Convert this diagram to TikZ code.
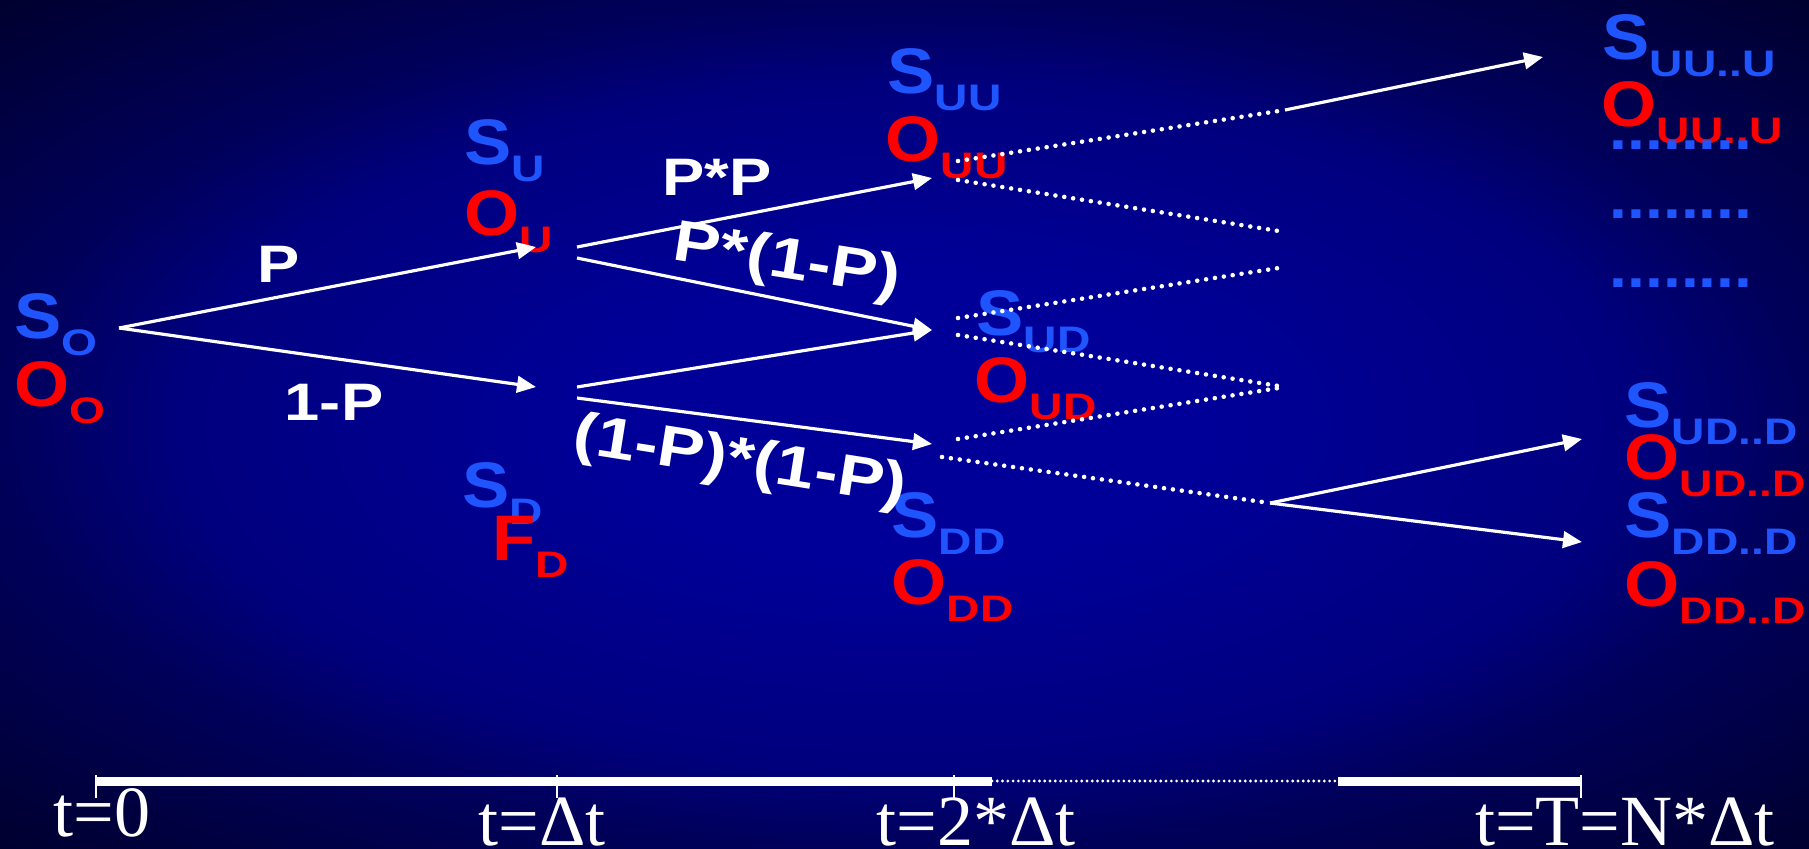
\documentclass[tikz,border=0pt]{standalone}
\usepackage{fontspec}
\setmainfont{Liberation Serif}
\newfontfamily\lblfont[FakeStretch=1.1]{Liberation Sans}
\newfontfamily\subfont[FakeStretch=1.25]{Liberation Sans}
\newfontfamily\edgefont[FakeStretch=1.2]{Liberation Sans}
\usepackage{xcolor}
\definecolor{cS}{HTML}{1F55FF}
\definecolor{cO}{HTML}{FF0000}
\definecolor{bgIn}{HTML}{000099}
\definecolor{bgMid}{HTML}{00007E}
\definecolor{bgEdge}{HTML}{00005A}
\definecolor{bgCorner}{HTML}{00002C}
\usepackage{tikz}
\usetikzlibrary{arrows.meta}
\pgfdeclareradialshading{bg-radial}{\pgfpoint{0bp}{0bp}}{%
  color(0bp)=(bgIn); color(8bp)=(bgIn); color(20bp)=(bgMid);
  color(25bp)=(bgEdge); color(36bp)=(bgCorner); color(50bp)=(bgCorner)}
\newcommand{\nodelbl}[2]{#1\raisebox{-4.85pt}{\subfont\fontsize{10.5}{11}\selectfont #2}}
\tikzset{
  lbl-s/.style={text=cS,inner sep=0pt,anchor=base west,
    font=\lblfont\bfseries\fontsize{18.3}{20}\selectfont},
  lbl-o/.style={lbl-s,text=cO},
  lbl-dots/.style={lbl-s,font=\lblfont\bfseries\fontsize{16.6}{18}\selectfont},
  lbl-edge/.style={text=white,inner sep=0pt,
    font=\edgefont\bfseries\fontsize{15}{16}\selectfont},
  lbl-edge-rot/.style={lbl-edge,rotate=-9,
    font=\edgefont\bfseries\fontsize{16.5}{18}\selectfont},
  lbl-time/.style={text=white,inner sep=0pt,anchor=base,
    font=\fontsize{20.5}{22}\selectfont},
  arrow/.style={-{Triangle[length=5.4pt,width=4.7pt]},line width=0.9pt,draw=white},
  branch-dot/.style={line width=1.3pt,draw=white,line cap=round,
    dash pattern=on 0pt off 2.55pt},
  axis/.style={line width=2.56pt,draw=white},
  axis-dot/.style={line width=0.9pt,draw=white,line cap=round,
    dash pattern=on 0pt off 1.5pt},
  axis-tick/.style={line width=0.6pt,draw=white},
}

\begin{document}
\begin{tikzpicture}[x=0.01cm,y=-0.01cm]
  \useasboundingbox (0,0) rectangle (1809,848);
  \shade[shading=bg-radial] (0,0) rectangle (1809,848);

  % 节点
  \node[lbl-s] (s0) at (14,338) {\nodelbl{S}{O}};
  \node[lbl-o] (o0) at (14,406) {\nodelbl{O}{O}};
  \node[lbl-s] (su) at (464,164) {\nodelbl{S}{U}};
  \node[lbl-o] (ou) at (464,235) {\nodelbl{O}{U}};
  \node[lbl-s] (sd) at (462,507) {\nodelbl{S}{D}};
  \node[lbl-o] (fd) at (492,560) {\nodelbl{F}{D}};
  \node[lbl-s] (suu) at (887,93) {\nodelbl{S}{UU}};
  \node[lbl-o] (ouu) at (885,161) {\nodelbl{O}{UU}};
  \node[lbl-s] (sud) at (976,335) {\nodelbl{S}{UD}};
  \node[lbl-o] (oud) at (974,402) {\nodelbl{O}{UD}};
  \node[lbl-s] (sdd) at (891,537) {\nodelbl{S}{DD}};
  \node[lbl-o] (odd) at (891,604) {\nodelbl{O}{DD}};
  \node[lbl-s] (suuu) at (1602,59) {\nodelbl{S}{UU..U}};
  \node[lbl-o] (ouuu) at (1601,126) {\nodelbl{O}{UU..U}};
  \node[lbl-s] (sudd) at (1624,427) {\nodelbl{S}{UD..D}};
  \node[lbl-o] (oudd) at (1624,479) {\nodelbl{O}{UD..D}};
  \node[lbl-s] (sddd) at (1624,537) {\nodelbl{S}{DD..D}};
  \node[lbl-o] (oddd) at (1624,606) {\nodelbl{O}{DD..D}};
  \foreach \y [count=\i] in {149,218,287}
    \node[lbl-dots] (dots\i) at (1609,\y) {........};

  % 概率
  \node[lbl-edge,anchor=base] (lp) at (279,282) {P};
  \node[lbl-edge,anchor=base] (lq) at (334,420) {1-P};
  \node[lbl-edge,anchor=base] (lpp) at (717,195) {P*P};
  \node[lbl-edge-rot] (lpq) at (787,263) {P*(1-P)};
  \node[lbl-edge-rot] (lqq) at (740,463) {(1-P)*(1-P)};

  % 分支
  \coordinate (r0) at (119,328);
  \coordinate (u1) at (536,247);
  \coordinate (d1) at (536,387);
  \coordinate (u1o) at (577,247);
  \coordinate (u1p) at (577,258);
  \coordinate (d1o) at (577,387);
  \coordinate (d1p) at (577,398);
  \coordinate (uu2) at (932,178);
  \coordinate (ud2) at (932,330);
  \coordinate (dd2) at (932,444);
  \coordinate (uu3a) at (958,161);
  \coordinate (uu3b) at (958,180);
  \coordinate (ud3a) at (958,318);
  \coordinate (ud3b) at (958,335);
  \coordinate (dd3a) at (958,439);
  \coordinate (dd3b) at (942,457);
  \coordinate (m1) at (1285,110);
  \coordinate (m2) at (1285,232);
  \coordinate (m3) at (1285,267);
  \coordinate (m4) at (1285,387);
  \coordinate (m5) at (1270,503);
  \coordinate (fuu) at (1543,57);
  \coordinate (fud) at (1582,439);
  \coordinate (fdd) at (1582,542);
  \draw[arrow] (r0) -- (u1);
  \draw[arrow] (r0) -- (d1);
  \draw[arrow] (u1o) -- (uu2);
  \draw[arrow] (u1p) -- (ud2);
  \draw[arrow] (d1o) -- (ud2);
  \draw[arrow] (d1p) -- (dd2);
  \draw[branch-dot] (uu3a) -- (m1);
  \draw[branch-dot] (uu3b) -- (m2);
  \draw[branch-dot] (ud3a) -- (m3);
  \draw[branch-dot] (ud3b) -- (m4);
  \draw[branch-dot] (dd3a) -- (m4);
  \draw[branch-dot] (dd3b) -- (m5);
  \draw[arrow] (m1) -- (fuu);
  \draw[arrow] (m5) -- (fud);
  \draw[arrow] (m5) -- (fdd);

  % 时间轴
  \coordinate (t0) at (96,781);
  \coordinate (t1) at (557,781);
  \coordinate (t2) at (954,781);
  \coordinate (tb) at (992,781);
  \coordinate (te) at (1338,781);
  \coordinate (tn) at (1581,781);
  \draw[axis] (t0) -- (tb);
  \draw[axis-dot] (tb) -- (te);
  \draw[axis] (te) -- (tn);
  \foreach \t in {t0,t1,t2,tn}
    \draw[axis-tick] (\t) ++(0,-6) -- ++(0,23);
  \node[lbl-time] (lt0) at (102,836) {t=0};
  \node[lbl-time] (lt1) at (542,845) {t=Δt};
  \node[lbl-time] (lt2) at (976,845) {t=2*Δt};
  \node[lbl-time] (ltn) at (1625,845) {t=T=N*Δt};
\end{tikzpicture}
\end{document}
